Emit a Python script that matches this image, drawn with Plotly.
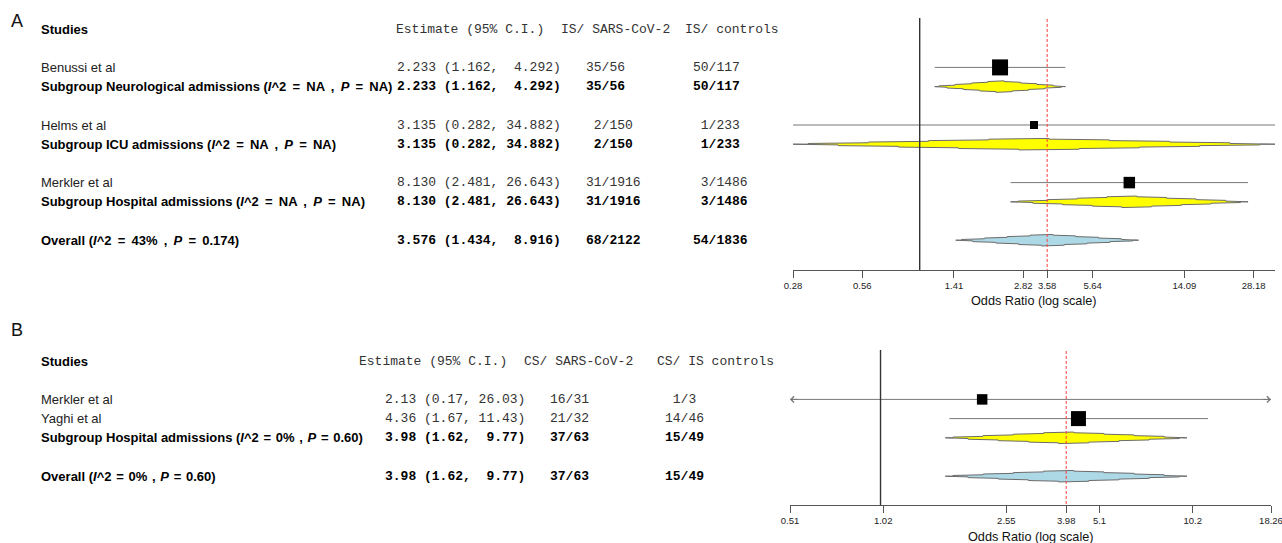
import math
import plotly.graph_objects as go

# ---------------- Panel A: ischaemic stroke (IS) ----------------
a_studies = ["Benussi et al", "Helms et al", "Merkler et al"]
a_study_group = [0, 1, 2]
a_study_or = [2.233, 3.135, 8.130]
a_study_lo = [1.162, 0.282, 2.481]
a_study_hi = [4.292, 34.882, 26.643]
a_study_cases = ["35/56", "2/150", "31/1916"]
a_study_ctrls = ["50/117", "1/233", "3/1486"]

a_subgroups = ["Neurological admissions", "ICU admissions", "Hospital admissions"]
a_sub_i2 = ["NA", "NA", "NA"]
a_sub_p = ["NA", "NA", "NA"]
a_sub_or = [2.233, 3.135, 8.130]
a_sub_lo = [1.162, 0.282, 2.481]
a_sub_hi = [4.292, 34.882, 26.643]
a_sub_cases = ["35/56", "2/150", "31/1916"]
a_sub_ctrls = ["50/117", "1/233", "3/1486"]

a_overall_or = 3.576
a_overall_lo = 1.434
a_overall_hi = 8.916
a_overall_cases = "68/2122"
a_overall_ctrls = "54/1836"
a_overall_i2 = "43%"
a_overall_p = "0.174"

a_axis_limits = [0.2818, 34.882]
a_tick_vals = [0.2818, 0.5636, 1.409, 2.818, 3.576, 5.636, 14.09, 28.18]
a_tick_text = ["0.28", "0.56", "1.41", "2.82", "3.58", "5.64", "14.09", "28.18"]

# ---------------- Panel B: cerebral sinus thrombosis (CS) ----------------
b_studies = ["Merkler et al", "Yaghi et al"]
b_study_group = [0, 0]
b_study_or = [2.13, 4.36]
b_study_lo = [0.17, 1.67]
b_study_hi = [26.03, 11.43]
b_study_cases = ["16/31", "21/32"]
b_study_ctrls = ["1/3", "14/46"]

b_subgroups = ["Hospital admissions"]
b_sub_i2 = ["0%"]
b_sub_p = ["0.60"]
b_sub_or = [3.98]
b_sub_lo = [1.62]
b_sub_hi = [9.77]
b_sub_cases = ["37/63"]
b_sub_ctrls = ["15/49"]

b_overall_or = 3.98
b_overall_lo = 1.62
b_overall_hi = 9.77
b_overall_cases = "37/63"
b_overall_ctrls = "15/49"
b_overall_i2 = "0%"
b_overall_p = "0.60"

b_axis_limits = [0.51, 18.26]
b_tick_vals = [0.51, 1.02, 2.55, 3.98, 5.1, 10.2, 18.26]
b_tick_text = ["0.51", "1.02", "2.55", "3.98", "5.1", "10.2", "18.26"]

# ---------------- drawing ----------------
W, H = 1282, 543
SANS = "Liberation Sans, Arial, sans-serif"
MONO = "Liberation Mono, Courier New, monospace"
ROW = 19.2           # pixels per table row
DIAMOND_HALF = 0.30  # diamond half-height in rows
THIN = "\u2009"
HAIR = "\u200a"

fig = go.Figure()
annotations = []


def add_text(x_px, y, s, yref="paper", size=13, family=SANS, color="#000",
             xanchor="left"):
    annotations.append(dict(
        x=x_px / W, xref="paper", y=y, yref=yref, text=s, showarrow=False,
        xanchor=xanchor, yanchor="middle", borderpad=0, borderwidth=0,
        font=dict(size=size, family=family, color=color)))


def fmt_ci(est, lo, hi, d):
    return f"{est:.{d}f} ({lo:.{d}f}, {hi:{d + 3}.{d}f})"


def fmt_count(s):
    n, tot = s.split("/")
    return f"{n:>2}/{tot}"


def fmt_stats(i2, p, pad):
    sp = " " + pad
    return (f"(<i>I</i>^2{sp}={sp}{i2}{sp},{sp}<i>P</i>{sp}={sp}{p})")


def stepped_diamond(est, lo, hi, row, n=8):
    c, l, r = math.log(est), math.log(lo), math.log(hi)
    dl, dr = c - l, r - c
    top = [(l, 0.0)]
    for k in range(n, 0, -1):
        x = c - dl * (2 * k - 1) / (2 * n)
        top.append((x, DIAMOND_HALF * (1 - k / n)))
        top.append((x, DIAMOND_HALF * (1 - (k - 1) / n)))
    for k in range(1, n + 1):
        x = c + dr * (2 * k - 1) / (2 * n)
        top.append((x, DIAMOND_HALF * (1 - (k - 1) / n)))
        top.append((x, DIAMOND_HALF * (1 - k / n)))
    top.append((r, 0.0))
    pts = top + [(x, -h) for x, h in reversed(top)]
    xs = [math.exp(p[0]) for p in pts]
    ys = [row + p[1] for p in pts]
    return xs, ys


def draw_panel(p):
    xa, ya = p["xaxis"], p["yaxis"]
    xref, yref = xa.replace("axis", ""), ya.replace("axis", "")
    hdr = p["header_px"]
    top_row = (p["ydom"][0] - hdr) / ROW
    bot_row = (p["ydom"][1] - hdr) / ROW
    lo_lim, hi_lim = p["limits"]
    col = p["cols"]
    d = p["decimals"]

    # headers
    add_text(col["label"], 0, "<b>Studies</b>", yref=yref)
    add_text(col["est_h"], 0, "Estimate (95% C.I.)", yref=yref, family=MONO, color="#333")
    add_text(col["cas_h"], 0, p["hdr_cases"], yref=yref, family=MONO, color="#333")
    add_text(col["ctl_h"], 0, p["hdr_ctrls"], yref=yref, family=MONO, color="#333")

    row = 2
    study_rows, sub_rows = [], []
    for g in range(len(p["sub_names"])):
        for i, grp in enumerate(p["study_group"]):
            if grp == g:
                study_rows.append((i, row))
                row += 1
        sub_rows.append((g, row))
        row += 2
    overall_row = row

    # individual studies
    for (i, r), box in zip(study_rows, p["box_px"]):
        add_text(col["label"], r, p["studies"][i], yref=yref, color="#222")
        add_text(col["est"], r, fmt_ci(p["or"][i], p["lo"][i], p["hi"][i], d),
                 yref=yref, family=MONO, color="#333")
        add_text(col["cas"], r, fmt_count(p["cases"][i]), yref=yref, family=MONO, color="#333")
        add_text(col["ctl"], r, fmt_count(p["ctrls"][i]), yref=yref, family=MONO, color="#333")
        lo_c = max(p["lo"][i], lo_lim)
        hi_c = min(p["hi"][i], hi_lim)
        fig.add_trace(go.Scatter(x=[lo_c, hi_c], y=[r, r], mode="lines",
                                 line=dict(color="#777", width=1),
                                 xaxis=xref, yaxis=yref, hoverinfo="skip"))
        fig.add_trace(go.Scatter(x=[p["or"][i]], y=[r], mode="markers",
                                 marker=dict(symbol="square", size=box, color="#000",
                                             line=dict(width=0)),
                                 xaxis=xref, yaxis=yref, hoverinfo="skip"))
        for clipped, lim, ax in ((p["lo"][i] < lo_lim, lo_lim, 9),
                                 (p["hi"][i] > hi_lim, hi_lim, -9)):
            if clipped:
                annotations.append(dict(
                    x=math.log10(lim), y=r, xref=xref, yref=yref, ax=ax, ay=0,
                    showarrow=True, arrowhead=4, arrowsize=1.2, arrowwidth=1,
                    arrowcolor="#777", text=""))

    def summary_row(r, label, est, lo, hi, cases, ctrls, fill):
        add_text(col["label"], r, label, yref=yref)
        add_text(col["est"], r, "<b>" + fmt_ci(est, lo, hi, d) + "</b>",
                 yref=yref, family=MONO)
        add_text(col["cas"], r, "<b>" + fmt_count(cases) + "</b>", yref=yref, family=MONO)
        add_text(col["ctl"], r, "<b>" + fmt_count(ctrls) + "</b>", yref=yref, family=MONO)
        xs, ys = stepped_diamond(est, max(lo, lo_lim), min(hi, hi_lim), r)
        fig.add_trace(go.Scatter(x=xs, y=ys, mode="lines", fill="toself",
                                 fillcolor=fill, line=dict(color="#6b6b6b", width=1),
                                 xaxis=xref, yaxis=yref, hoverinfo="skip"))

    pad = p["stat_pad"]
    for g, r in sub_rows:
        label = (f"<b>Subgroup {p['sub_names'][g]} "
                 f"{fmt_stats(p['sub_i2'][g], p['sub_p'][g], pad)}</b>")
        summary_row(r, label, p["sub_or"][g], p["sub_lo"][g], p["sub_hi"][g],
                    p["sub_cases"][g], p["sub_ctrls"][g], "#FFFF00")

    label = f"<b>Overall {fmt_stats(p['ov_i2'], p['ov_p'], pad)}</b>"
    summary_row(overall_row, label, p["ov_or"], p["ov_lo"], p["ov_hi"],
                p["ov_cases"], p["ov_ctrls"], "#ADD8E6")

    # reference lines: no effect and pooled estimate
    fig.add_trace(go.Scatter(x=[1, 1], y=[top_row, bot_row], mode="lines",
                             line=dict(color="#333", width=1.4),
                             xaxis=xref, yaxis=yref, hoverinfo="skip"))
    fig.add_trace(go.Scatter(x=[p["ov_or"], p["ov_or"]], y=[top_row + 0.05, bot_row],
                             mode="lines",
                             line=dict(color="#FF3B3B", width=1, dash="3px,2px"),
                             xaxis=xref, yaxis=yref, hoverinfo="skip"))

    fig.update_layout({
        xa: dict(type="log", domain=[p["xdom"][0] / W, p["xdom"][1] / W], anchor=yref,
                 range=[math.log10(lo_lim) - 1e-5, math.log10(hi_lim) + 1e-5],
                 automargin=False, ticklabeloverflow="allow",
                 showline=True, linecolor="#555", linewidth=1, ticks="outside",
                 ticklen=7, tickwidth=1, tickcolor="#555", tickvals=p["tick_vals"],
                 ticktext=p["tick_text"], tickfont=dict(size=9.5, family=SANS, color="#222"),
                 showgrid=False, zeroline=False, fixedrange=True),
        ya: dict(domain=[1 - p["ydom"][1] / H, 1 - p["ydom"][0] / H], anchor=xref,
                 range=[bot_row, top_row], visible=False, automargin=False,
                 fixedrange=True),
    })

    add_text((p["xdom"][0] + p["xdom"][1]) / 2, 1 - p["title_px"] / H,
             "Odds Ratio (log scale)", size=12.7, xanchor="center", color="#111")
    add_text(11, 1 - p["letter_px"] / H, p["letter"], size=18, color="#111")


panel_a = dict(
    xaxis="xaxis", yaxis="yaxis", xdom=(793, 1275), ydom=(18, 270), header_px=29,
    title_px=301, letter="A", letter_px=21, decimals=3, limits=a_axis_limits,
    tick_vals=a_tick_vals, tick_text=a_tick_text, stat_pad=THIN,
    cols=dict(label=41, est_h=396, est=397, cas_h=561, cas=586, ctl_h=685, ctl=693),
    hdr_cases="IS/ SARS-CoV-2", hdr_ctrls="IS/ controls",
    studies=a_studies, study_group=a_study_group, box_px=[16, 8, 11.5],
    **{"or": a_study_or}, lo=a_study_lo, hi=a_study_hi,
    cases=a_study_cases, ctrls=a_study_ctrls,
    sub_names=a_subgroups, sub_i2=a_sub_i2, sub_p=a_sub_p, sub_or=a_sub_or,
    sub_lo=a_sub_lo, sub_hi=a_sub_hi, sub_cases=a_sub_cases, sub_ctrls=a_sub_ctrls,
    ov_or=a_overall_or, ov_lo=a_overall_lo, ov_hi=a_overall_hi,
    ov_cases=a_overall_cases, ov_ctrls=a_overall_ctrls,
    ov_i2=a_overall_i2, ov_p=a_overall_p,
)

panel_b = dict(
    xaxis="xaxis2", yaxis="yaxis2", xdom=(790, 1271), ydom=(350, 505), header_px=361,
    title_px=537, letter="B", letter_px=330, decimals=2, limits=b_axis_limits,
    tick_vals=b_tick_vals, tick_text=b_tick_text, stat_pad=HAIR,
    cols=dict(label=41, est_h=359, est=385, cas_h=524, cas=550, ctl_h=657, ctl=665),
    hdr_cases="CS/ SARS-CoV-2", hdr_ctrls="CS/ IS controls",
    studies=b_studies, study_group=b_study_group, box_px=[10.5, 15],
    **{"or": b_study_or}, lo=b_study_lo, hi=b_study_hi,
    cases=b_study_cases, ctrls=b_study_ctrls,
    sub_names=b_subgroups, sub_i2=b_sub_i2, sub_p=b_sub_p, sub_or=b_sub_or,
    sub_lo=b_sub_lo, sub_hi=b_sub_hi, sub_cases=b_sub_cases, sub_ctrls=b_sub_ctrls,
    ov_or=b_overall_or, ov_lo=b_overall_lo, ov_hi=b_overall_hi,
    ov_cases=b_overall_cases, ov_ctrls=b_overall_ctrls,
    ov_i2=b_overall_i2, ov_p=b_overall_p,
)

draw_panel(panel_a)
draw_panel(panel_b)

fig.update_layout(
    width=W, height=H, margin=dict(l=0, r=0, t=0, b=0, pad=0, autoexpand=False),
    paper_bgcolor="#FFFFFF", plot_bgcolor="#FFFFFF",
    showlegend=False, annotations=annotations,
)

fig.write_html("out.html", config={"displayModeBar": False})
